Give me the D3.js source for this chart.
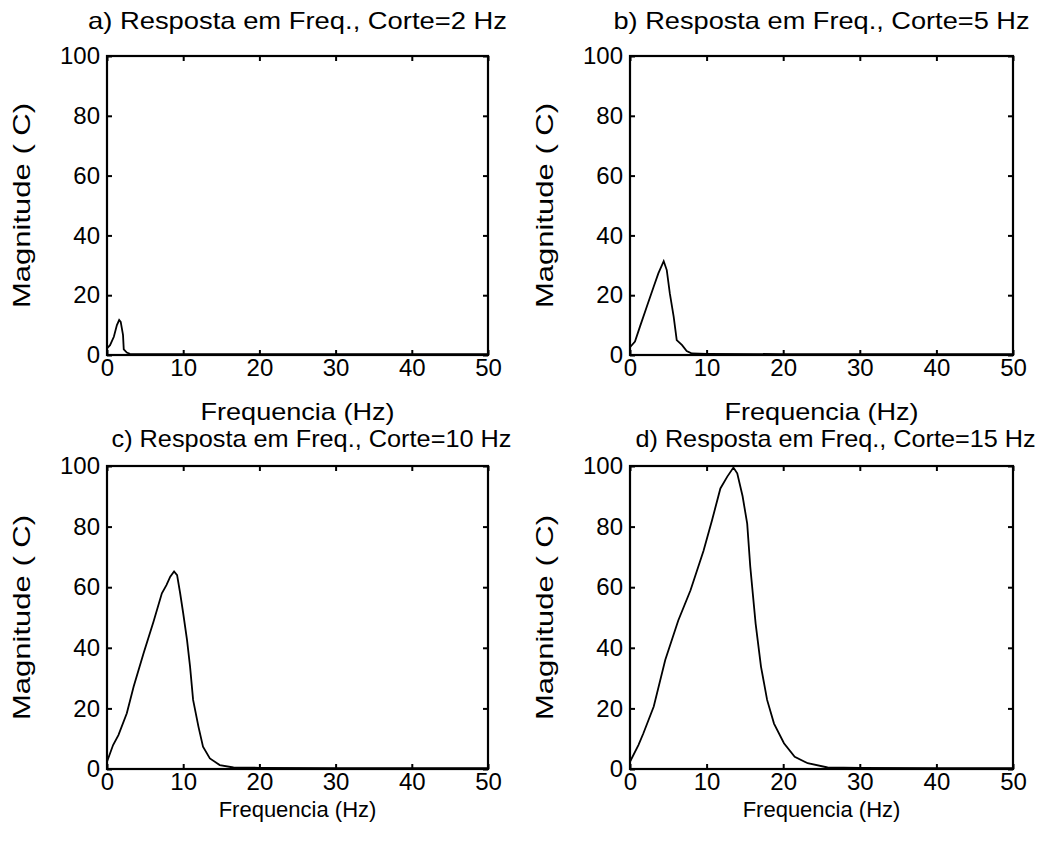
<!DOCTYPE html>
<html>
<head>
<meta charset="utf-8">
<script src="https://cdn.jsdelivr.net/npm/d3@7"></script>
<style>
  html, body { margin: 0; padding: 0; background: #fff; }
  svg { display: block; }
  text { font-family: "Liberation Sans", Arial, sans-serif; fill: #000; }
</style>
</head>
<body>
<svg id="fig" width="1041" height="846"></svg>
<script>
// Frequency response magnitude for four low-pass cut-off settings
const titles = [
  "a) Resposta em Freq., Corte=2 Hz",
  "b) Resposta em Freq., Corte=5 Hz",
  "c) Resposta em Freq., Corte=10 Hz",
  "d) Resposta em Freq., Corte=15 Hz"
];
const xTicks = [0, 10, 20, 30, 40, 50];
const yTicks = [0, 20, 40, 60, 80, 100];
const xLabel = "Frequencia (Hz)";
const yLabel = "Magnitude ( C)";

const freqA = [0, 0.4, 0.9, 1.3, 1.6, 1.8, 2.1, 2.2, 2.6, 3.0, 10, 20, 30, 40, 50];
const magA  = [2.2, 3.3, 6.1, 10.0, 11.7, 11.1, 6.7, 1.9, 0.8, 0.4, 0.3, 0.3, 0.3, 0.3, 0.3];

const freqB = [0, 0.65, 1.3, 2.2, 3.1, 3.7, 4.4, 4.8, 5.2, 5.7, 6.1, 6.8, 7.4, 8.1, 10, 20, 30, 40, 50];
const magB  = [2.6, 4.5, 9.5, 16.2, 22.9, 27.3, 31.4, 28.4, 20.6, 12.8, 5.0, 3.3, 1.3, 0.5, 0.4, 0.3, 0.3, 0.3, 0.3];

const freqC = [0, 0.8, 1.5, 2.6, 3.5, 4.8, 6.1, 7.2, 7.8, 8.3, 8.8, 9.2, 9.6, 10.0, 10.5, 10.9, 11.3, 12.0, 12.6, 13.5, 14.8, 16.6, 20, 30, 40, 50];
const magC  = [2.4, 7.9, 11.2, 18.4, 27.2, 38.2, 48.6, 58.0, 60.7, 63.5, 65.2, 64.0, 58.0, 51.4, 42.6, 33.8, 22.8, 14.0, 7.4, 3.5, 1.3, 0.5, 0.4, 0.3, 0.3, 0.3];

const freqD = [0, 1.1, 1.75, 3.1, 4.6, 6.3, 7.9, 9.6, 10.7, 11.8, 12.7, 13.5, 14.0, 14.7, 15.3, 15.7, 16.4, 17.1, 17.9, 18.8, 20.1, 21.5, 23.2, 25.8, 30, 40, 50];
const magD  = [2.4, 7.9, 11.8, 20.6, 36.0, 49.0, 59.0, 72.0, 82.0, 92.6, 96.5, 99.5, 97.6, 90.0, 81.0, 66.8, 48.0, 33.8, 22.8, 15.0, 8.5, 4.0, 1.9, 0.5, 0.4, 0.3, 0.3];

const series = [
  { f: freqA, m: magA },
  { f: freqB, m: magB },
  { f: freqC, m: magC },
  { f: freqD, m: magD }
];

// Plot-box placement for the 2x2 grid, with per-row text settings
const boxes = [
  { left: 107, right: 488, top: 56, bottom: 355, titleY: 29, titleDX: 0, titleW: 419, xlabY: 420, xlabW: 194, xlabFS: 24 },
  { left: 630, right: 1013, top: 56, bottom: 355, titleY: 29, titleDX: 0, titleW: 416, xlabY: 420, xlabW: 194, xlabFS: 24 },
  { left: 107, right: 488, top: 466, bottom: 769, titleY: 447, titleDX: 14, titleW: 400, xlabY: 817, xlabW: null, xlabFS: 22 },
  { left: 630, right: 1013, top: 466, bottom: 769, titleY: 447, titleDX: 14, titleW: 400, xlabY: 817, xlabW: null, xlabFS: 22 }
];

const svg = d3.select("#fig");
const FS = 24;
const tickLen = 5;
const yLabW = 205;

boxes.forEach((b, i) => {
  const x = d3.scaleLinear().domain([0, 50]).range([b.left, b.right]);
  const y = d3.scaleLinear().domain([0, 100]).range([b.bottom, b.top]);
  const g = svg.append("g");

  // magnitude curve
  const line = d3.line().x((d, k) => x(series[i].f[k])).y(d => y(d));
  g.append("path")
    .datum(series[i].m)
    .attr("d", line)
    .attr("fill", "none")
    .attr("stroke", "#000")
    .attr("stroke-width", 1.8);

  // inward ticks on all four sides; labels on bottom and left only
  const axB = d3.axisBottom(x).tickValues(xTicks).tickSize(-tickLen).tickSizeOuter(0).tickPadding(4).tickFormat(d3.format("d"));
  const axT = d3.axisTop(x).tickValues(xTicks).tickSize(-tickLen).tickSizeOuter(0).tickFormat("");
  const axL = d3.axisLeft(y).tickValues(yTicks).tickSize(-tickLen).tickSizeOuter(0).tickPadding(7).tickFormat(d3.format("d"));
  const axR = d3.axisRight(y).tickValues(yTicks).tickSize(-tickLen).tickSizeOuter(0).tickFormat("");

  const styleAxis = sel => {
    sel.attr("font-size", FS).attr("font-family", null);
    sel.select(".domain").remove();
    sel.selectAll(".tick line").attr("stroke", "#000").attr("stroke-width", 2);
    sel.selectAll(".tick text").attr("fill", "#000");
  };

  g.append("g").attr("transform", `translate(0,${b.bottom})`).call(axB).call(styleAxis);
  g.append("g").attr("transform", `translate(0,${b.top})`).call(axT).call(styleAxis);
  g.append("g").attr("transform", `translate(${b.left},0)`).call(axL).call(styleAxis);
  g.append("g").attr("transform", `translate(${b.right},0)`).call(axR).call(styleAxis);

  // box frame
  g.append("rect")
    .attr("x", b.left).attr("y", b.top)
    .attr("width", b.right - b.left).attr("height", b.bottom - b.top)
    .attr("fill", "none").attr("stroke", "#000").attr("stroke-width", 2.2);

  const cx = (b.left + b.right) / 2;
  const cy = (b.top + b.bottom) / 2;

  g.append("text")
    .attr("x", cx + b.titleDX).attr("y", b.titleY)
    .attr("text-anchor", "middle")
    .attr("font-size", FS)
    .attr("textLength", b.titleW).attr("lengthAdjust", "spacingAndGlyphs")
    .text(titles[i]);

  const xl = g.append("text")
    .attr("x", cx).attr("y", b.xlabY)
    .attr("text-anchor", "middle")
    .attr("font-size", b.xlabFS)
    .text(xLabel);
  if (b.xlabW) xl.attr("textLength", b.xlabW).attr("lengthAdjust", "spacingAndGlyphs");

  g.append("text")
    .attr("transform", `translate(${b.left - 77},${cy}) rotate(-90)`)
    .attr("text-anchor", "middle")
    .attr("font-size", FS)
    .attr("textLength", yLabW).attr("lengthAdjust", "spacingAndGlyphs")
    .text(yLabel);
});
</script>
</body>
</html>
